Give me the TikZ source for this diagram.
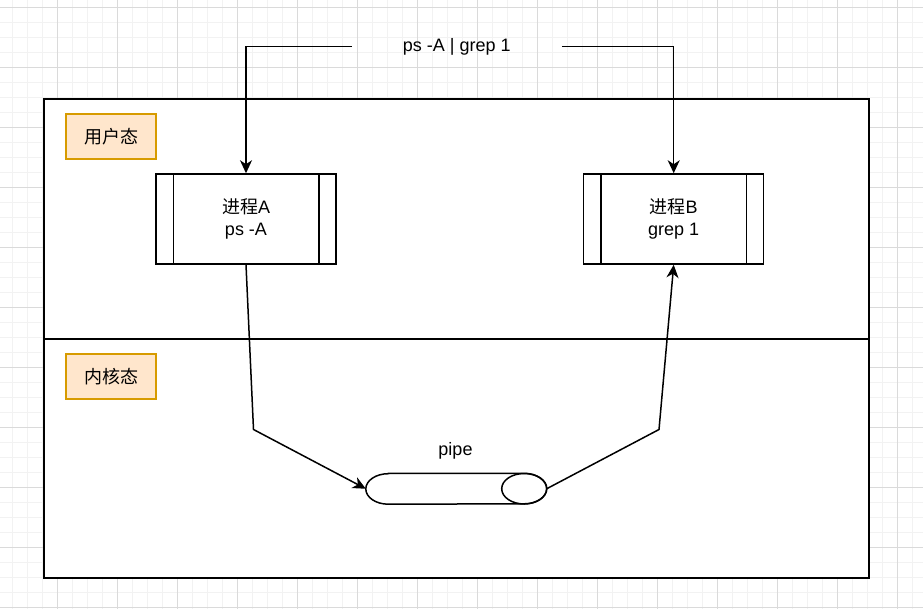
\documentclass[tikz,border=0pt]{standalone}
\usepackage{fontspec}
\setmainfont{Liberation Sans}
\newfontfamily\cjk{Noto Sans CJK SC}
\usetikzlibrary{arrows.meta}
\definecolor{gridminor}{HTML}{F2F2F2}
\definecolor{gridmajor}{HTML}{DADADA}
\definecolor{tagfill}{HTML}{FFE6CC}
\definecolor{tagdraw}{HTML}{D79B00}
\tikzset{
  minorline/.style={gridminor, line width=1pt},
  majorline/.style={gridmajor, line width=1pt},
  region/.style={draw=black, fill=white, line width=1.5pt, minimum width=825pt, inner sep=0pt},
  tag/.style={draw=tagdraw, fill=tagfill, line width=1.5pt, minimum width=90pt, minimum height=45pt, inner sep=0pt, font=\fontsize{18}{21.6}\selectfont\cjk},
  procbox/.style={draw=black, fill=white, line width=1.5pt, minimum width=180pt, minimum height=90pt, inner sep=0pt, align=center, font=\fontsize{18}{21.6}\selectfont},
  lbl/.style={inner sep=0pt, font=\fontsize{18}{21.6}\selectfont},
  conn/.style={line width=1.5pt, -{Stealth[length=13pt,width=12pt,inset=4pt]}},
}
\begin{document}
\begin{tikzpicture}[x=1pt,y=-1pt]
\useasboundingbox (0,0) rectangle (923,609);
\fill[white] (0,0) rectangle (923,609);
% grid
\foreach \i in {0,...,60} {\draw[minorline] ({12.5+15*\i},0) -- ({12.5+15*\i},609);}
\foreach \j in {0,...,40} {\draw[minorline] (0,{7.5+15*\j}) -- (923,{7.5+15*\j});}
\foreach \i in {0,...,14} {\draw[majorline] ({57.5+60*\i},0) -- ({57.5+60*\i},609);}
\foreach \j in {0,...,10} {\draw[majorline] (0,{7.5+60*\j}) -- (923,{7.5+60*\j});}
% regions
\node[region, minimum height=240pt] (user) at (456.5,219) {};
\node[region, minimum height=239pt] (kernel) at (456.5,458.5) {};
% tags
\node[tag] (usertag) at (111,136.5) {用户态};
\node[tag] (kerneltag) at (111,376.5) {内核态};
% processes
\node[procbox] (A) at (246,219) {{\cjk 进程}A\\ps -A};
\node[procbox] (B) at (673.7,219) {{\cjk 进程}B\\grep 1};
\foreach \n in {A,B} {
  \draw[line width=1.5pt] ([xshift=18pt]\n.north west) -- ([xshift=18pt]\n.south west);
  \draw[line width=1.5pt] ([xshift=-18pt]\n.north east) -- ([xshift=-18pt]\n.south east);
}
% pipe
\node[minimum width=180.5pt, minimum height=30.5pt, inner sep=0pt] (pipe) at (456.25,488.75) {};
\draw[line width=1.5pt, fill=white] ([xshift=22.5pt]pipe.north west) -- ([xshift=-22.5pt]pipe.north east)
  arc[start angle=90, end angle=-90, x radius=22.5pt, y radius=15.25pt]
  -- ([xshift=22.5pt]pipe.south west)
  arc[start angle=270, end angle=90, x radius=22.5pt, y radius=15.25pt] -- cycle;
\draw[line width=1.5pt] ([xshift=-22.5pt]pipe.east) ellipse[x radius=22.5pt, y radius=15.25pt];
\node[lbl] (pipelbl) at (455.5,451) {pipe};
% command label
\node[lbl, minimum width=210pt, minimum height=20pt] (cmd) at (456.7,46.5) {ps -A | grep 1};
% connectors
\draw[conn] (cmd.west) -| (A.north);
\draw[conn] (cmd.east) -| (B.north);
\coordinate (bendA) at (253.5,429.5);
\coordinate (bendB) at (659,429.5);
\draw[conn] (A.south) -- (bendA) -- (pipe.west);
\draw[conn] (pipe.east) -- (bendB) -- (B.south);
\end{tikzpicture}
\end{document}
